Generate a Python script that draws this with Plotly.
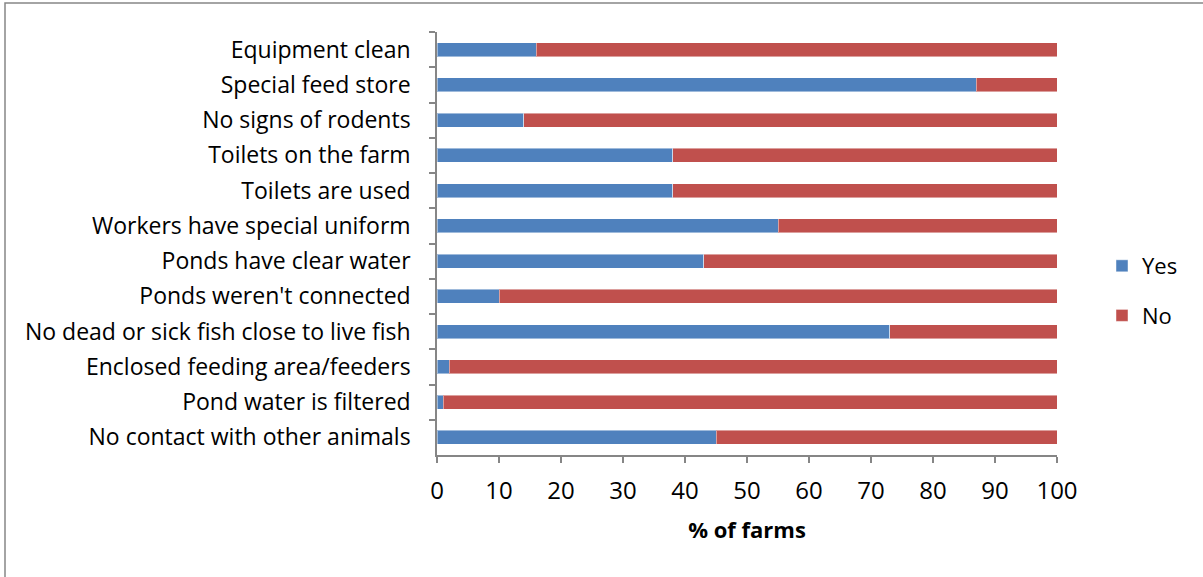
import plotly.graph_objects as go

# Biosecurity indicators, listed top to bottom as displayed
categories = [
    "Equipment clean",
    "Special feed store",
    "No signs of rodents",
    "Toilets on the farm",
    "Toilets are used",
    "Workers have special uniform",
    "Ponds have clear water",
    "Ponds weren't connected",
    "No dead or sick fish close to live fish",
    "Enclosed feeding area/feeders",
    "Pond water is filtered",
    "No contact with other animals",
]
yes_pct = [16, 87, 14, 38, 38, 55, 43, 10, 73, 2, 1, 45]
no_pct = [100 - v for v in yes_pct]
x_ticks = list(range(0, 101, 10))

BLUE = "#4F81BD"
RED = "#C0504D"
FONT = "Open Sans"

W, H = 1203, 577
L, R, T, B = 437, 1057, 32, 455
pw, ph = R - L, B - T


def px(x):
    return (x - L) / pw


def py(y):
    return (B - y) / ph


fig = go.Figure()
fig.add_trace(go.Bar(
    y=categories, x=yes_pct, orientation="h", name="Yes", legendgroup="yes",
    marker=dict(color=BLUE, line=dict(color="rgba(255,255,255,0.45)", width=1)),
))
fig.add_trace(go.Bar(
    y=categories, x=no_pct, orientation="h", name="No", legendgroup="no",
    marker=dict(color=RED, line=dict(color="rgba(255,255,255,0.45)", width=1)),
))

fig.update_layout(
    width=W, height=H,
    margin=dict(l=L, r=W - R, t=T, b=H - B),
    barmode="stack",
    bargap=0.6,
    plot_bgcolor="white",
    paper_bgcolor="white",
    font=dict(family=FONT, size=19, color="#000000"),
    showlegend=True,
    legend=dict(x=px(1102), y=py(291), xanchor="left", yanchor="middle",
                traceorder="grouped", tracegroupgap=18,
                font=dict(size=22), itemwidth=30, bgcolor="rgba(0,0,0,0)"),
    # chart frame (right and bottom edges fall outside the canvas)
    shapes=[dict(type="rect", xref="paper", yref="paper",
                 x0=px(5), x1=px(1215), y0=py(590), y1=py(3),
                 line=dict(color="#868686", width=1.5), layer="below")],
)

fig.update_xaxes(
    range=[0, 100], tickvals=x_ticks, ticktext=[str(v) for v in x_ticks],
    showgrid=False, zeroline=False,
    showline=True, linecolor="#868686", linewidth=1.5,
    ticks="outside", ticklen=6, tickcolor="#868686", tickwidth=1.5,
    tickfont=dict(size=24), ticklabelstandoff=7,
    title=dict(text="<b>% of farms</b>", font=dict(size=22), standoff=18),
)
fig.update_yaxes(
    categoryorder="array", categoryarray=categories, autorange="reversed",
    showgrid=False, showline=True, linecolor="#868686", linewidth=1.5,
    ticks="outside", ticklen=6, tickcolor="#868686", tickwidth=1.5,
    tickson="boundaries", tickfont=dict(size=23), ticklabelstandoff=20,
)

fig.write_html("out.html")
